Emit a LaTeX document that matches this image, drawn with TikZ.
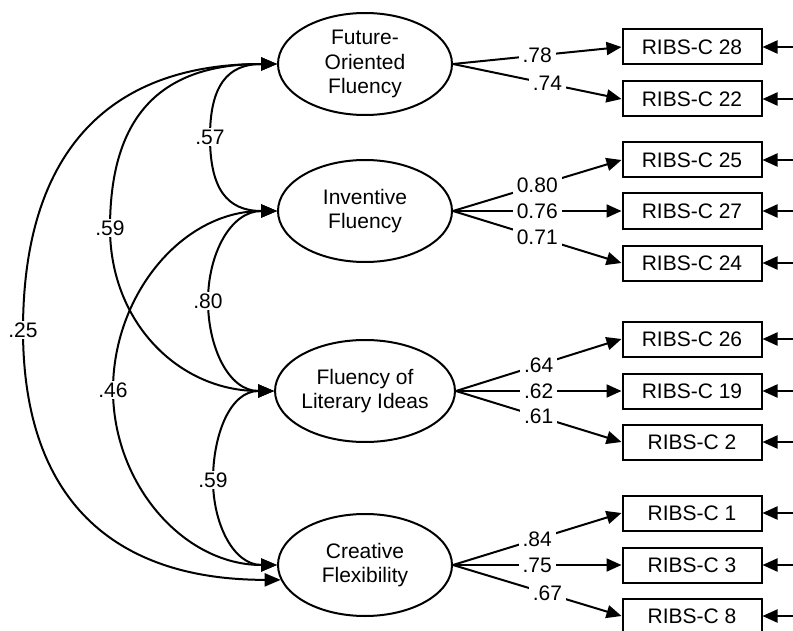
\documentclass[tikz,border=0pt]{standalone}
\usepackage{fontspec}
\setmainfont{Liberation Sans}
\usetikzlibrary{arrows.meta, shapes.geometric}

\tikzset{
	factor/.style = {draw, ellipse, line width = 1pt, minimum width = 87pt, minimum height = 51pt, inner sep = 0pt, align = center},
	item/.style = {draw, rectangle, line width = 1pt, minimum width = 69.5pt, minimum height = 17.5pt, inner sep = 0pt},
	load/.style = {line width = 1pt, -{Triangle[length = 7.5pt, width = 6.5pt]}},
	cov/.style = {line width = 1pt, {Triangle[length = 8pt, width = 6.5pt]}-{Triangle[length = 8pt, width = 6.5pt]}},
	coef/.style = {fill = white, inner xsep = 2pt, inner ysep = 1pt},
}

\begin{document}
\begin{tikzpicture}[x = 0.5pt, y = 0.5pt, font = \fontsize{10.5}{12.2}\selectfont]
		\useasboundingbox (0, 0) rectangle (793, -631);
		
		% factors
		\node [factor] (fof) at (365, -64) {Future-\\Oriented\\Fluency};
		\node [factor] (inv) at (365, -211) {Inventive\\Fluency};
		\node [factor] (fli) at (365, -391) {Fluency of\\Literary Ideas};
		\node [factor] (cfl) at (365, -565) {Creative\\Flexibility};
		
		% items with their error arrows
		\foreach \n/\y in {28/47, 22/99, 25/160, 27/211, 24/263, 26/339, 19/391, 2/442, 1/513, 3/565, 8/616} {
			\node [item] (b\n) at (692, -\y) {RIBS-C \n};
			\coordinate (e\n) at (800, -\y);
			\draw [load] (e\n) -- (b\n.east);
		}
		
		% loadings
		\draw [load] (fof.east) -- node [coef] (w78) {.78} (b28.west);
		\draw [load] (fof.east) -- node [coef, pos = 0.56] (w74) {.74} (b22.west);
		
		\draw [load] (inv.east) -- node [coef] (w80) {0.80} (b25.west);
		\draw [load] (inv.east) -- node [coef] (w76) {0.76} (b27.west);
		\draw [load] (inv.east) -- node [coef] (w71) {0.71} (b24.west);
		
		\draw [load] (fli.east) -- node [coef] (w64) {.64} (b26.west);
		\draw [load] (fli.east) -- node [coef] (w62) {.62} (b19.west);
		\draw [load] (fli.east) -- node [coef] (w61) {.61} (b2.west);
		
		\draw [load] (cfl.east) -- node [coef] (w84) {.84} (b1.west);
		\draw [load] (cfl.east) -- node [coef] (w75) {.75} (b3.west);
		\draw [load] (cfl.east) -- node [coef, pos = 0.56] (w67) {.67} (b8.west);
		
		% correlations
		\coordinate (m57) at (210, -137);
		\coordinate (m80) at (208, -301);
		\coordinate (m59b) at (213, -480);
		\coordinate (m59a) at (110, -228);
		\coordinate (m46) at (113, -390);
		\coordinate (m25) at (23, -330);
		
		\draw [cov] (fof.west) to [out = 180, in = 90, looseness = 1.3] (m57) to [out = -90, in = 180, looseness = 1.3] (inv.west);
		\draw [cov] (inv.west) to [out = 180, in = 90, looseness = 1.05] (m80) to [out = -90, in = 180, looseness = 1.05] (fli.west);
		\draw [cov] (fli.west) to [out = 180, in = 90, looseness = 1.05] (m59b) to [out = -90, in = 180, looseness = 1.05] (cfl.west);
		\draw [cov] (fof.west) to [out = 180, in = 90, looseness = 1.25] (m59a) to [out = -90, in = 180, looseness = 1.05] (fli.west);
		\draw [cov] (inv.west) to [out = 180, in = 90, looseness = 1] (m46) to [out = -90, in = 180, looseness = 1] (cfl.west);
		\draw [cov] (fof.west) to [out = 180, in = 90, looseness = 1.2] (m25) to [out = -90, in = 180, looseness = 1.2] (cfl.190);
		
		\node [coef] (c57) at (m57) {.57};
		\node [coef] (c80) at (m80) {.80};
		\node [coef] (c59b) at (m59b) {.59};
		\node [coef] (c59a) at (m59a) {.59};
		\node [coef] (c46) at (m46) {.46};
		\node [coef] (c25) at (m25) {.25};
	\end{tikzpicture}
\end{document}
